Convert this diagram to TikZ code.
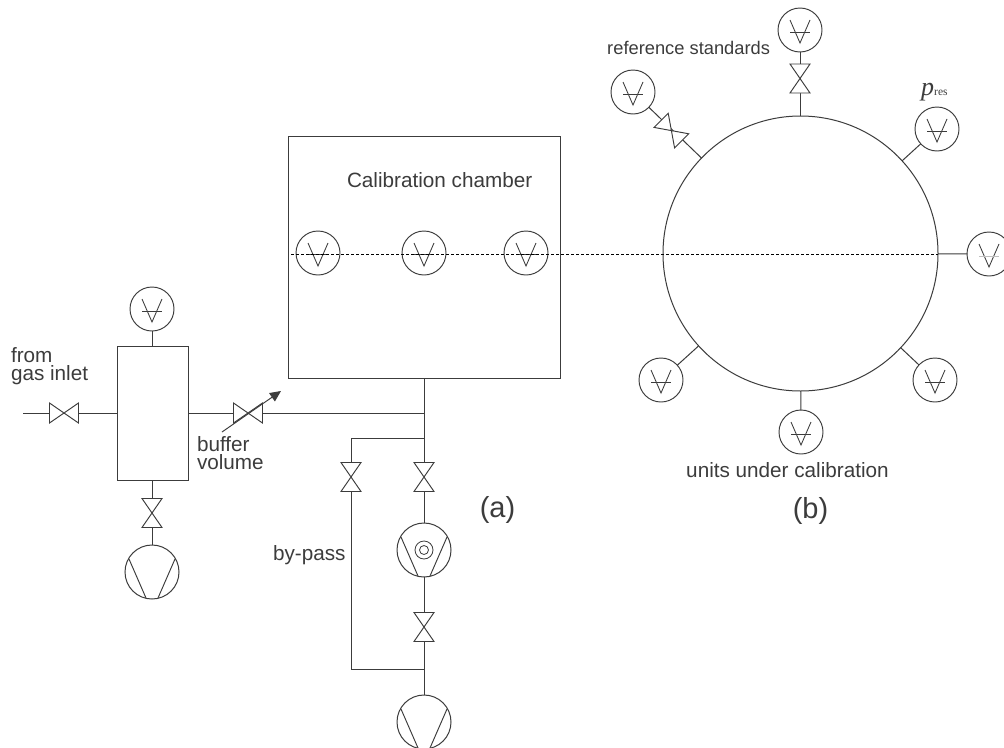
\documentclass[tikz,border=0pt]{standalone}
\usepackage{fontspec}
\setmainfont{Liberation Sans}
\newfontfamily\serifit{Liberation Serif}
\usetikzlibrary{arrows.meta,calc}
\definecolor{ink}{HTML}{3C3C3C}
\tikzset{
  x=1pt,y=-1pt,
  pipe/.style={draw=ink,line width=1pt},
  vessel/.style={draw=ink,line width=1pt,fill=none,inner sep=0pt,outer sep=0pt,rectangle},
  gaugeC/.style={draw=ink,line width=.95pt,circle,minimum size=44pt,inner sep=0pt,outer sep=0pt},
  pumpC/.style={draw=ink,line width=1pt,circle,minimum size=54pt,inner sep=0pt,outer sep=0pt},
  lbl/.style={text=ink,font=\fontsize{20.7}{18}\selectfont,inner sep=0pt,outer sep=0pt,align=left},
  big/.style={text=ink,font=\fontsize{29}{29}\selectfont,anchor=base,inner sep=0pt,outer sep=0pt},
}
% gauge sign: #1 node, #2 height of the bar below the centre
\newcommand{\gaugemark}[2]{%
  \draw[draw=ink,line width=.85pt] ($(#1)+(-10,-10)$) -- ($(#1)+(0,13)$) -- ($(#1)+(10,-10)$);
  \draw[draw=ink,line width=.85pt] ($(#1)+(-10,#2)$) -- ($(#1)+(10,#2)$);}
\newcommand{\pumpmark}[1]{%
  \draw[draw=ink,line width=.95pt] ($(#1)+(-23,-13)$) -- ($(#1)+(-6,26)$);
  \draw[draw=ink,line width=.95pt] ($(#1)+(23,-13)$) -- ($(#1)+(6,26)$);}
% bow-tie valve: #1 x, #2 y, #3 rotation (0 = flow along x)
\newcommand{\valve}[3]{%
  \draw[draw=ink,line width=.95pt,fill=white,line join=miter,shift={(#1,#2)},rotate=#3]
    (-14.5,-10) -- (14.5,10) -- (14.5,-10) -- (-14.5,10) -- cycle;}
\begin{document}
\begin{tikzpicture}
\useasboundingbox (0,0) rectangle (1004,747);
\clip (0,0) rectangle (1004,747);
\fill[white] (0,0) rectangle (1004,747);

% vessels
\node[vessel,minimum width=272pt,minimum height=242pt] (chamber) at (424,257) {};
\node[vessel,minimum width=71pt,minimum height=134pt] (buffer) at (152.5,413) {};
\node[draw=ink,line width=1pt,circle,minimum size=275pt,inner sep=0pt,outer sep=0pt] (sphere) at (800.5,253.5) {};

% gauges of the sphere
\node[gaugeC] (gt) at (800,30) {};
\node[gaugeC] (gl) at (633,92) {};
\node[gaugeC] (gp) at (937,129) {};
\node[gaugeC] (gr) at (989,254) {};
\node[gaugeC] (gbl) at (661,380) {};
\node[gaugeC] (gb) at (801,432) {};
\node[gaugeC] (gbr) at (935,380) {};
% gauges of the chamber
\node[gaugeC] (c1) at (318,253) {};
\node[gaugeC] (c2) at (424,253) {};
\node[gaugeC] (c3) at (526,253) {};
\node[gaugeC] (gbuf) at (152,309) {};
% pumps
\node[pumpC] (p1) at (152,572) {};
\node[pumpC] (p2) at (424,550) {};
\node[pumpC] (p3) at (424,722) {};

% free ends and junctions
\coordinate (inlet) at (23,413);
\coordinate (j1) at (424,413);
\coordinate (j2) at (424,438);
\coordinate (j2l) at (351,438);
\coordinate (j3) at (424,669);
\coordinate (j3l) at (351,669);
\coordinate (arrS) at (222,432);
\coordinate (arrE) at (281,391);
\coordinate (dotS) at (291,254);
\coordinate (dotE) at (938,254);

% pipes
\draw[pipe] (inlet) -- (buffer.west);
\draw[pipe] (buffer.east) -- (j1);
\draw[pipe] (gbuf) -- (buffer.north -| gbuf);
\draw[pipe] (buffer.south -| p1) -- (p1.north);
\draw[pipe] (chamber.south -| j1) -- (p2.north);
\draw[pipe] (p2.south) -- (p3.north);
\draw[pipe] (j2) -- (j2l) -- (j3l) -- (j3);
\draw[pipe] (gt.south) -- (sphere.north -| gt);
\draw[pipe] (gl) -- (sphere);
\draw[pipe] (gp) -- (sphere);
\draw[pipe] (gr) -- (sphere);
\draw[pipe] (gbl) -- (sphere);
\draw[pipe] (gb) -- (sphere);
\draw[pipe] (gbr) -- (sphere);

% gauge signs
\foreach \n in {gt,gl,gp,gbl,gb,gbr,gbuf} {\gaugemark{\n}{2}}
\draw[draw=ink,line width=.85pt] ($(gr)+(-10,-10)$) -- ($(gr)+(0,13)$) -- ($(gr)+(10,-10)$);
\draw[draw=black!25,line width=.6pt] ($(gr)+(-10,2)$) -- ($(gr)+(10,2)$);
\foreach \n in {c1,c2,c3} {\gaugemark{\n}{1}}

% valves
\valve{64}{413}{0}
\valve{248}{413}{0}
\valve{152}{513}{90}
\valve{351}{477}{90}
\valve{424}{477}{90}
\valve{424}{627}{90}
\valve{800}{78.5}{90}
\valve{671.4}{130.6}{-45}

% pumps
\pumpmark{p1}\pumpmark{p2}\pumpmark{p3}
\draw[draw=ink,line width=.8pt] (p2) circle (4.5pt);
\draw[draw=ink,line width=.8pt] (p2) circle (9pt);

% adjustable arrow
\draw[draw=ink,line width=.95pt,-{Triangle[length=11pt,width=10pt]}] (arrS) -- (arrE);

% dotted line
\draw[draw=black,line width=1pt,dash pattern=on 2.5pt off 2.5pt,line cap=butt] (dotS) -- (dotE);

% labels
\node[lbl,anchor=base west] (t1) at (347,187) {Calibration chamber};
\node[lbl,anchor=base east,font=\fontsize{18.3}{19}\selectfont] (t2) at (770,54) {reference standards};
\node[anchor=base west,inner sep=0pt,text=ink] (t3) at (921,95) {\serifit\fontsize{26}{26}\selectfont\itshape p\fontsize{11.5}{11.5}\selectfont\upshape res};
\node[lbl,anchor=base west] (t4) at (11,380) {from\\gas inlet};
\node[lbl,anchor=base west] (t6) at (197,469) {buffer\\volume};
\node[lbl,anchor=base west] (t8) at (273,560) {by-pass};
\node[lbl,anchor=base] (t9) at (787.5,477) {units under calibration};
\node[big] (t10) at (497.5,517) {(a)};
\node[big] (t11) at (810.5,518) {(b)};
\end{tikzpicture}
\end{document}
